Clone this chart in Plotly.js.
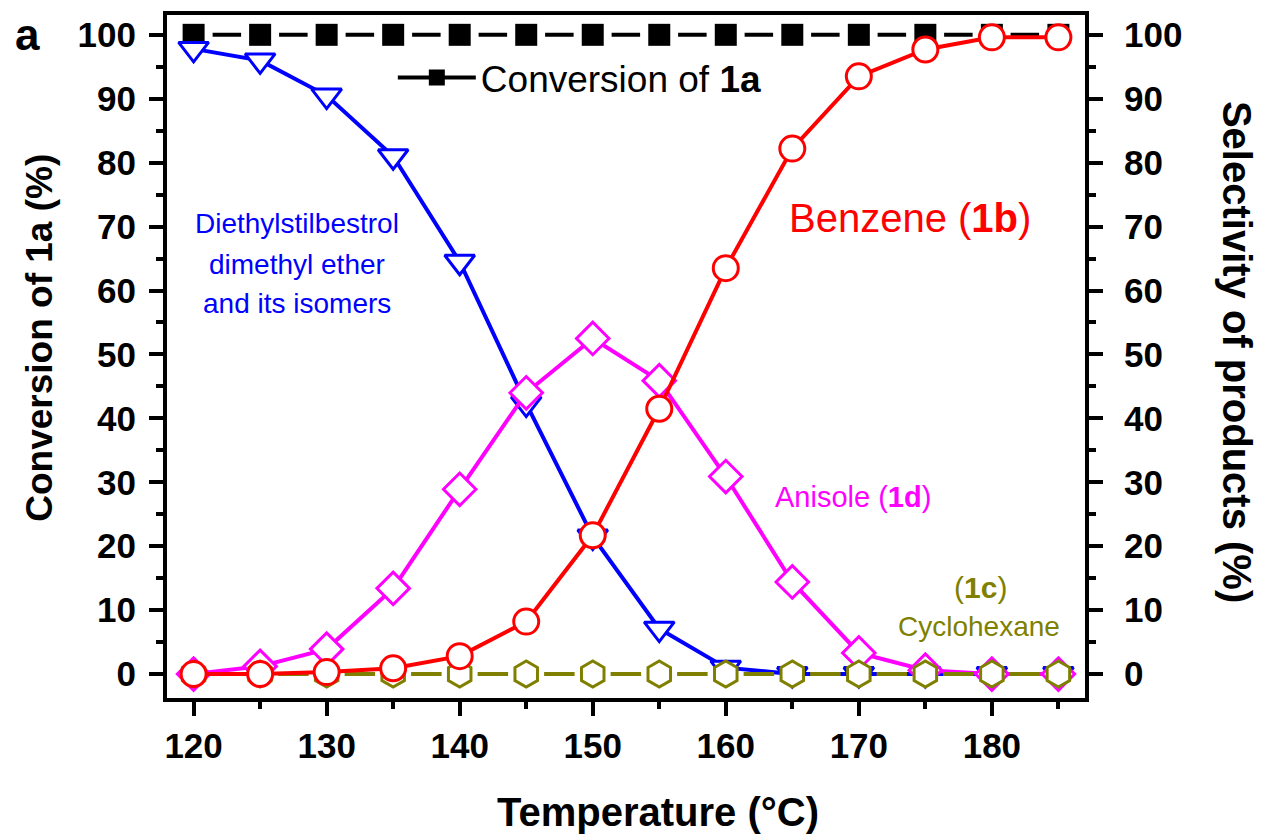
<!DOCTYPE html>
<html>
<head>
<meta charset="utf-8">
<script src="https://cdn.plot.ly/plotly-3.0.1.min.js"></script>
<style>
html,body{margin:0;padding:0;background:#fff;}
#chart{width:1262px;height:835px;}
</style>
</head>
<body>
<div id="chart"></div>
<script>
// ---- data ----
const temperatures = [120, 125, 130, 135, 140, 145, 150, 155, 160, 165, 170, 175, 180, 185];
const conversion1a = [100, 100, 100, 100, 100, 100, 100, 100, 100, 100, 100, 100, 100, 100];
const diethylstilbestrol = [97.8, 96.0, 90.5, 81.0, 64.5, 42.3, 21.5, 7.1, 1.0, 0, 0, 0, 0, 0];
const benzene1b = [0, 0, 0.3, 0.9, 2.8, 8.2, 21.7, 41.5, 63.5, 82.2, 93.5, 97.7, 99.6, 99.6];
const anisole1d = [0, 1.2, 3.9, 13.4, 28.9, 44.0, 52.5, 45.9, 30.9, 14.4, 3.3, 0.6, 0, 0];
const cyclohexane1c = [0, 0, 0, 0, 0, 0, 0, 0, 0, 0, 0, 0, 0, 0];
const xTickVals = [120, 130, 140, 150, 160, 170, 180];
const yTickVals = [0, 10, 20, 30, 40, 50, 60, 70, 80, 90, 100];

const FONT = 'Arial, "Liberation Sans", Helvetica, sans-serif';

const traces = [
  {
    x: temperatures, y: conversion1a, type: 'scatter', mode: 'lines+markers',
    name: 'Conversion of 1a', showlegend: false,
    line: {color: '#000000', width: 4, dash: '0px,19px,28.5px,19px'},
    marker: {symbol: 'square', size: 22, color: '#000000', line: {width: 0}}
  },
  {
    // legend entry only (solid sample line + square); null point draws nothing
    x: [null], y: [null], type: 'scatter', mode: 'lines+markers',
    name: 'Conversion of <b>1a</b>', showlegend: true, hoverinfo: 'skip',
    line: {color: '#000000', width: 4},
    marker: {symbol: 'square', size: 22, color: '#000000', line: {width: 0}}
  },
  {
    x: temperatures, y: diethylstilbestrol, type: 'scatter', mode: 'lines+markers',
    name: 'Diethylstilbestrol dimethyl ether and its isomers', showlegend: false, yaxis: 'y2',
    line: {color: '#0000FF', width: 4},
    marker: {symbol: 'triangle-down', size: 26, color: '#FFFFFF', line: {color: '#0000FF', width: 3}}
  },
  {
    x: temperatures, y: anisole1d, type: 'scatter', mode: 'lines+markers',
    name: 'Anisole (1d)', showlegend: false, yaxis: 'y2',
    line: {color: '#FF00FF', width: 4},
    marker: {symbol: 'diamond', size: 25, color: '#FFFFFF', line: {color: '#FF00FF', width: 3}}
  },
  {
    x: temperatures, y: cyclohexane1c, type: 'scatter', mode: 'lines+markers',
    name: 'Cyclohexane (1c)', showlegend: false, yaxis: 'y2',
    line: {color: '#808000', width: 4, dash: '0px,18px,30.5px,18px'},
    marker: {symbol: 'hexagon', size: 26, color: '#FFFFFF', line: {color: '#808000', width: 3}}
  },
  {
    x: temperatures, y: benzene1b, type: 'scatter', mode: 'lines+markers',
    name: 'Benzene (1b)', showlegend: false, yaxis: 'y2',
    line: {color: '#FF0000', width: 4},
    marker: {symbol: 'circle', size: 25, color: '#FFFFFF', line: {color: '#FF0000', width: 3}}
  }
];

const tickFont = {family: FONT, size: 35, color: '#000000', weight: 'bold'};
const yRange = [-3.75, 103.1];

const layout = {
  width: 1262, height: 835,
  paper_bgcolor: '#FFFFFF', plot_bgcolor: '#FFFFFF',
  margin: {l: 167, r: 177, t: 15, b: 137, pad: 0},
  showlegend: true,
  legend: {
    x: 0.246, y: 0.908, xanchor: 'left', yanchor: 'middle',
    font: {family: FONT, size: 37, color: '#000000'},
    bgcolor: 'rgba(0,0,0,0)', borderwidth: 0, itemwidth: 78
  },
  xaxis: {
    range: [118, 187], tickvals: xTickVals, ticktext: xTickVals.map(String),
    showgrid: false, zeroline: false,
    showline: true, linecolor: '#000000', linewidth: 4, mirror: true,
    ticks: 'outside', ticklen: 14, tickwidth: 4, tickcolor: '#000000',
    tickfont: tickFont, ticklabelstandoff: 0,
    minor: {dtick: 5, tick0: 120, ticks: 'outside', ticklen: 7, tickwidth: 4, tickcolor: '#000000', showgrid: false}
  },
  yaxis: {
    range: yRange, tickvals: yTickVals, ticktext: yTickVals.map(String),
    showgrid: false, zeroline: false,
    showline: true, linecolor: '#000000', linewidth: 4, mirror: false,
    ticks: 'outside', ticklen: 14, tickwidth: 4, tickcolor: '#000000',
    tickfont: tickFont, ticklabelstandoff: 6,
    minor: {dtick: 5, tick0: 0, ticks: 'outside', ticklen: 7, tickwidth: 4, tickcolor: '#000000', showgrid: false}
  },
  yaxis2: {
    range: yRange, tickvals: yTickVals, ticktext: yTickVals.map(String),
    overlaying: 'y', side: 'right',
    showgrid: false, zeroline: false,
    showline: true, linecolor: '#000000', linewidth: 4,
    ticks: 'outside', ticklen: 14, tickwidth: 4, tickcolor: '#000000',
    tickfont: tickFont, ticklabelstandoff: 14,
    minor: {dtick: 5, tick0: 0, ticks: 'outside', ticklen: 7, tickwidth: 4, tickcolor: '#000000', showgrid: false}
  },
  annotations: [
    {text: '<b>a</b>', xref: 'paper', yref: 'paper', x: -0.152, y: 0.972, xanchor: 'center', yanchor: 'middle',
     showarrow: false, font: {family: FONT, size: 44, color: '#000000'}},
    {text: '<b>Conversion of 1a (%)</b>', xref: 'paper', yref: 'paper', x: -0.139, y: 0.528, xanchor: 'center', yanchor: 'middle',
     textangle: -90, showarrow: false, font: {family: FONT, size: 37, color: '#000000'}},
    {text: '<b>Selectivity of products (%)</b>', xref: 'paper', yref: 'paper', x: 1.165, y: 0.506, xanchor: 'center', yanchor: 'middle',
     textangle: 90, showarrow: false, font: {family: FONT, size: 40, color: '#000000'}},
    {text: '<b>Temperature (°C)</b>', xref: 'paper', yref: 'paper', x: 0.535, y: -0.167, xanchor: 'center', yanchor: 'middle',
     showarrow: false, font: {family: FONT, size: 40, color: '#000000'}},
    {text: 'Diethylstilbestrol', xref: 'paper', yref: 'paper', x: 0.1415, y: 0.694, xanchor: 'center', yanchor: 'middle',
     showarrow: false, font: {family: FONT, size: 28, color: '#0000FF'}},
    {text: 'dimethyl ether', xref: 'paper', yref: 'paper', x: 0.1415, y: 0.634, xanchor: 'center', yanchor: 'middle',
     showarrow: false, font: {family: FONT, size: 28, color: '#0000FF'}},
    {text: 'and its isomers', xref: 'paper', yref: 'paper', x: 0.1415, y: 0.578, xanchor: 'center', yanchor: 'middle',
     showarrow: false, font: {family: FONT, size: 28, color: '#0000FF'}},
    {text: 'Benzene (<b>1b</b>)', xref: 'paper', yref: 'paper', x: 0.809, y: 0.703, xanchor: 'center', yanchor: 'middle',
     showarrow: false, font: {family: FONT, size: 40, color: '#FF0000'}},
    {text: 'Anisole (<b>1d</b>)', xref: 'paper', yref: 'paper', x: 0.747, y: 0.294, xanchor: 'center', yanchor: 'middle',
     showarrow: false, font: {family: FONT, size: 29, color: '#FF00FF'}},
    {text: '(<b>1c</b>)', xref: 'paper', yref: 'paper', x: 0.886, y: 0.162, xanchor: 'center', yanchor: 'middle',
     showarrow: false, font: {family: FONT, size: 30, color: '#808000'}},
    {text: 'Cyclohexane', xref: 'paper', yref: 'paper', x: 0.885, y: 0.104, xanchor: 'center', yanchor: 'middle',
     showarrow: false, font: {family: FONT, size: 28, color: '#808000'}}
  ]
};

Plotly.newPlot('chart', traces, layout, {displayModeBar: false, responsive: false});
</script>
</body>
</html>
